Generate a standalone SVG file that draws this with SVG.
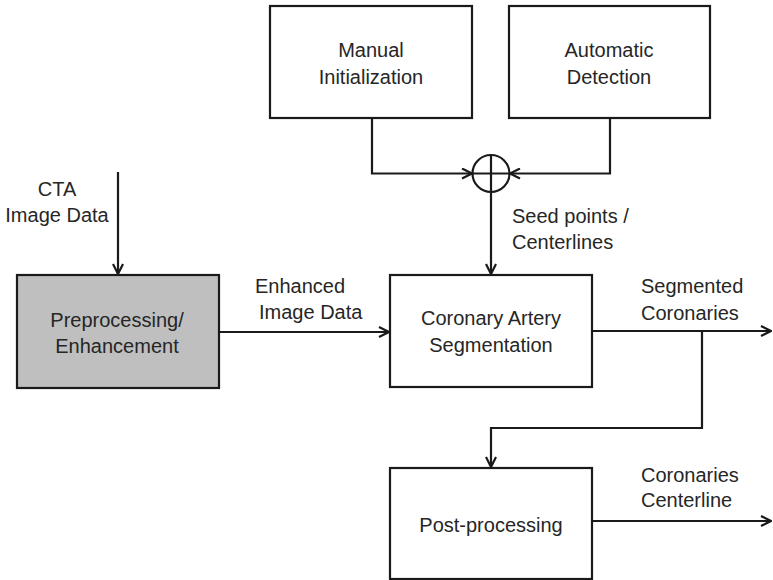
<svg xmlns="http://www.w3.org/2000/svg" width="773" height="580" viewBox="0 0 773 580">
<defs>
<style>
.box{fill:#fff;stroke:#1a1a1a;stroke-width:2.2}
.gray{fill:#bfbfbf}
.ln{fill:none;stroke:#1a1a1a;stroke-width:2.2}
.ar{marker-end:url(#ah)}
text{font-family:"Liberation Sans",Arial,sans-serif;font-size:20px;fill:#262626}
.c{text-anchor:middle}
</style>
<marker id="ah" viewBox="0 0 12 12" refX="11" refY="6" markerWidth="12" markerHeight="12" markerUnits="userSpaceOnUse" orient="auto">
<path d="M1,1 L11,6 L1,11" fill="none" stroke="#1a1a1a" stroke-width="2.2"/>
</marker>
</defs>
<rect width="773" height="580" fill="#fff"/>
<g id="connectors">
<path class="ln ar" d="M372,118 V173.5 H472"/>
<path class="ln ar" d="M610,118 V173.5 H510"/>
<path class="ln ar" d="M491,192 V274"/>
<path class="ln ar" d="M118,172 V274"/>
<path class="ln ar" d="M219,332 H389"/>
<path class="ln ar" d="M592,331 H771"/>
<path class="ln ar" d="M702,331 V428 H491 V467"/>
<path class="ln ar" d="M592,521 H771"/>
</g>
<g id="manual">
<rect class="box" x="270" y="6" width="202" height="112"/>
<text class="c" x="371" y="57">Manual</text>
<text class="c" x="371" y="84">Initialization</text>
</g>
<g id="automatic">
<rect class="box" x="509" y="6" width="201" height="112"/>
<text class="c" x="609" y="57">Automatic</text>
<text class="c" x="609" y="84">Detection</text>
</g>
<g id="sum">
<circle class="ln" cx="491" cy="173.5" r="18.5" fill="#fff"/>
<path class="ln" d="M472.5,173.5 H509.5 M491,155 V192"/>
</g>
<g id="cta-label">
<text class="c" x="57" y="196">CTA</text>
<text class="c" x="57" y="222">Image Data</text>
</g>
<g id="preprocessing">
<rect class="box gray" x="17" y="275" width="202" height="113"/>
<text class="c" x="117" y="327">Preprocessing/</text>
<text class="c" x="117" y="353">Enhancement</text>
</g>
<g id="enhanced-label">
<text x="255" y="293">Enhanced</text>
<text x="259" y="319">Image Data</text>
</g>
<g id="seed-label">
<text x="512" y="223">Seed points /</text>
<text x="512" y="249">Centerlines</text>
</g>
<g id="segmentation">
<rect class="box" x="390" y="275" width="202" height="112"/>
<text class="c" x="491" y="325">Coronary Artery</text>
<text class="c" x="491" y="352">Segmentation</text>
</g>
<g id="segmented-label">
<text x="641" y="293">Segmented</text>
<text x="641" y="320">Coronaries</text>
</g>
<g id="postprocessing">
<rect class="box" x="390" y="468" width="202" height="111"/>
<text class="c" x="491" y="532">Post-processing</text>
</g>
<g id="centerline-label">
<text x="641" y="482">Coronaries</text>
<text x="641" y="507">Centerline</text>
</g>
</svg>
